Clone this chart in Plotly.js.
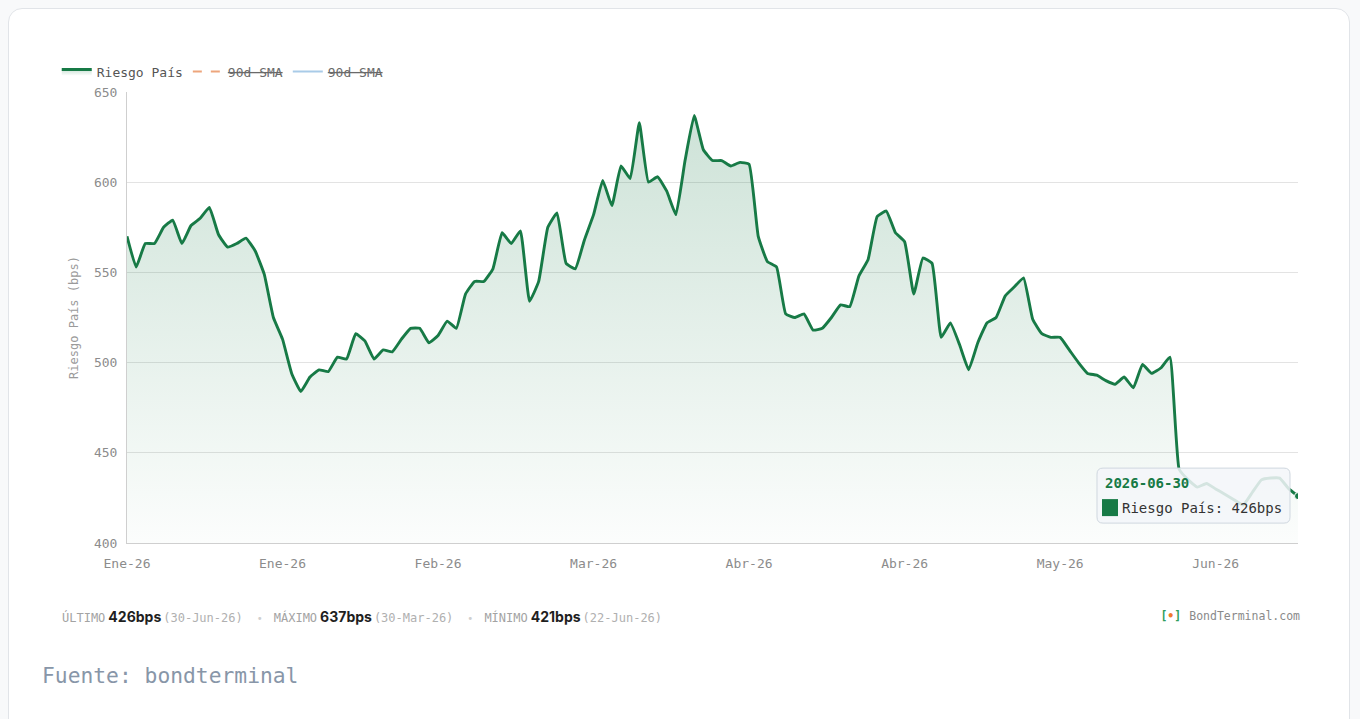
<!DOCTYPE html>
<html>
<head>
<meta charset="utf-8">
<script src="https://cdn.plot.ly/plotly-3.0.1.min.js"></script>
<style>
html,body{margin:0;padding:0;width:1360px;height:719px;overflow:hidden;background:#f8f9fa;}
#card{position:absolute;left:8px;top:8px;width:1342px;height:740px;background:#fff;border:1px solid #e1e4e8;border-radius:14px;box-sizing:border-box;}
#chart{position:absolute;left:0;top:0;width:1360px;height:719px;}
#stats{position:absolute;left:62px;top:607px;font-family:'DejaVu Sans Mono',monospace;font-size:12px;color:#a3a3a3;white-space:nowrap;line-height:20px;}
#stats .v{font-family:Inter,'Noto Sans',sans-serif;font-weight:700;font-size:14px;color:#1f1f1f;margin:0 2px 0 3px;}
#stats .d{color:#b0b0b0;}
#stats .sep{color:#cfcfcf;margin:0 11px 0 14px;font-size:10px;}
#brand{position:absolute;right:60px;top:606px;font-family:'DejaVu Sans Mono',monospace;font-size:11.5px;color:#8a8a8a;white-space:nowrap;line-height:20px;}
#brand .ic{color:#2e9e5b;font-weight:bold;margin-right:8px;}
#brand .ic i{color:#f07a2a;font-style:normal;}
#src{position:absolute;left:42px;top:662px;font-family:'DejaVu Sans Mono',monospace;font-size:21.3px;color:#8896a8;line-height:28px;}
</style>
</head>
<body>
<div id="card"></div>
<div id="chart"></div>
<div id="stats"></div>
<div id="brand"><span class="ic">[<i>•</i>]</span>BondTerminal.com</div>
<div id="src">Fuente: bondterminal</div>
<script>
// ---- data ----
const dates = [
"2026-01-01","2026-01-02","2026-01-05","2026-01-06","2026-01-07","2026-01-08","2026-01-09","2026-01-12","2026-01-13","2026-01-14",
"2026-01-15","2026-01-16","2026-01-19","2026-01-20","2026-01-21","2026-01-22","2026-01-23","2026-01-26","2026-01-27","2026-01-28",
"2026-01-29","2026-01-30","2026-02-02","2026-02-03","2026-02-04","2026-02-05","2026-02-06","2026-02-09","2026-02-10","2026-02-11",
"2026-02-12","2026-02-13","2026-02-16","2026-02-17","2026-02-18","2026-02-19","2026-02-20","2026-02-23","2026-02-24","2026-02-25",
"2026-02-26","2026-02-27","2026-03-02","2026-03-03","2026-03-04","2026-03-05","2026-03-06","2026-03-09","2026-03-10","2026-03-11",
"2026-03-12","2026-03-13","2026-03-16","2026-03-17","2026-03-18","2026-03-19","2026-03-20","2026-03-23","2026-03-24","2026-03-25",
"2026-03-26","2026-03-27","2026-03-30","2026-03-31","2026-04-01","2026-04-02","2026-04-03","2026-04-06","2026-04-07","2026-04-08",
"2026-04-09","2026-04-10","2026-04-13","2026-04-14","2026-04-15","2026-04-16","2026-04-17","2026-04-20","2026-04-21","2026-04-22",
"2026-04-23","2026-04-24","2026-04-27","2026-04-28","2026-04-29","2026-04-30","2026-05-01","2026-05-04","2026-05-05","2026-05-06",
"2026-05-07","2026-05-08","2026-05-11","2026-05-12","2026-05-13","2026-05-14","2026-05-15","2026-05-18","2026-05-19","2026-05-20",
"2026-05-21","2026-05-22","2026-05-25","2026-05-26","2026-05-27","2026-05-28","2026-05-29","2026-06-01","2026-06-02","2026-06-03",
"2026-06-04","2026-06-05","2026-06-08","2026-06-09","2026-06-10","2026-06-11","2026-06-12","2026-06-15","2026-06-16","2026-06-17",
"2026-06-18","2026-06-19","2026-06-22","2026-06-23","2026-06-24","2026-06-25","2026-06-26","2026-06-29","2026-06-30"
];
const riesgoPais = [
570,553,566,566,575,579,566,576,580,586,
571,564,566,569,562,549,525,513,494,484,
492,496,495,503,502,516,512,502,507,506,
513,519,519,511,515,523,519,538,545,545,
552,572,566,573,534,545,575,583,555,552,
568,582,601,587,609,602,633,600,603,595,
582,612,637,618,612,612,609,611,610,570,
556,553,527,525,527,518,519,525,532,531,
548,557,581,584,572,567,538,558,555,514,
522,510,496,511,522,525,537,542,547,524,
516,514,514,507,500,494,493,490,488,492,
486,499,494,497,503,441,435,431,433,430,
427,424,421,428,435,436,436,430,426
];
const tickIndex = [0,17,34,51,68,85,102,119];
const tickLabels = ["Ene-26","Ene-26","Feb-26","Mar-26","Abr-26","Abr-26","May-26","Jun-26"];
const seriesName = "Riesgo País";
const smaNames = ["90d SMA","90d SMA"];
const monthAbbr = ["Jan","Feb","Mar","Apr","May","Jun","Jul","Aug","Sep","Oct","Nov","Dec"];

// ---- styles ----
const GREEN = "#177a46";
const n = riesgoPais.length;
const lastDate = dates[n-1], lastVal = riesgoPais[n-1];
const strike = s => '<span style="text-decoration:line-through;fill:#6a6a6a">' + s + '</span>';

const traces = [
  {
    x: dates, y: riesgoPais, type: "scatter", mode: "lines", name: seriesName,
    line: {color: GREEN, width: 2.9, shape: "spline", smoothing: 0.35},
    fill: "tozeroy",
    fillgradient: {type: "vertical", start: 400, stop: 645,
      colorscale: [[0, "rgba(23,122,70,0.015)"], [1, "rgba(23,122,70,0.22)"]]},
    hoverinfo: "skip"
  },
  {x: [dates[0]], y: [null], type: "scatter", mode: "lines", name: strike(smaNames[0]),
   line: {color: "#eda57c", width: 2, dash: "dash"}},
  {x: [dates[0]], y: [null], type: "scatter", mode: "lines", name: strike(smaNames[1]),
   line: {color: "#a9cbe8", width: 2}},
  {x: [lastDate], y: [lastVal], type: "scatter", mode: "markers", showlegend: false,
   marker: {color: GREEN, size: 7, line: {color: "#ffffff", width: 1}}, hoverinfo: "skip"}
];

const box = "M -195,28 L -14,28 Q -8,28 -8,22 L -8,-21 Q -8,-27 -14,-27 L -195,-27 Q -201,-27 -201,-21 L -201,22 Q -201,28 -195,28 Z";

const layout = {
  width: 1360, height: 719,
  margin: {l: 127, r: 62, t: 92, b: 176, pad: 0},
  paper_bgcolor: "rgba(0,0,0,0)", plot_bgcolor: "rgba(0,0,0,0)",
  font: {family: "DejaVu Sans Mono, monospace", size: 13, color: "#8c8c8c"},
  showlegend: true,
  legend: {orientation: "h", x: -0.06, xanchor: "left", y: 1.012, yanchor: "bottom",
    font: {size: 13, color: "#555"}, itemwidth: 30, bgcolor: "rgba(0,0,0,0)", tracegroupgap: 0,
    itemclick: false, itemdoubleclick: false},
  xaxis: {type: "category", range: [0, n-1], tickmode: "array",
    tickvals: tickIndex.map(i => dates[i]), ticktext: tickLabels,
    showgrid: false, zeroline: false, showline: true, linecolor: "#cfcfcf", linewidth: 1,
    ticks: "", ticklabelstandoff: 8, tickfont: {size: 13, color: "#8c8c8c"}, fixedrange: true},
  yaxis: {range: [400, 650], tick0: 400, dtick: 50, showgrid: true, gridcolor: "#e3e3e3", gridwidth: 1,
    zeroline: false, showline: true, linecolor: "#cfcfcf", linewidth: 1, ticks: "", ticklabelstandoff: 6,
    tickfont: {size: 13, color: "#8c8c8c"},
    title: {text: "Riesgo País (bps)", font: {size: 12, color: "#9a9a9a"}, standoff: 12}, fixedrange: true},
  shapes: [
    {type: "path", xref: "x", yref: "y", xsizemode: "pixel", ysizemode: "pixel",
     xanchor: lastDate, yanchor: lastVal, path: box,
     fillcolor: "rgba(243,246,249,0.86)", line: {color: "#cfd7df", width: 1}, layer: "above"},
    {type: "rect", xref: "x", yref: "y", xsizemode: "pixel", ysizemode: "pixel",
     xanchor: lastDate, yanchor: lastVal, x0: -196, x1: -180, y0: -3, y1: -20,
     fillcolor: GREEN, line: {width: 0}, layer: "above"}
  ],
  annotations: [
    {x: lastDate, y: lastVal, xref: "x", yref: "y", showarrow: false, xanchor: "left", yanchor: "middle",
     xshift: -195, yshift: 13, text: "<b>" + lastDate + "</b>", font: {family: "DejaVu Sans Mono, monospace", size: 14, color: GREEN}},
    {x: lastDate, y: lastVal, xref: "x", yref: "y", showarrow: false, xanchor: "left", yanchor: "middle",
     xshift: -178, yshift: -12, text: seriesName + ": " + lastVal + "bps", font: {family: "DejaVu Sans Mono, monospace", size: 14, color: "#333"}}
  ]
};

Plotly.newPlot("chart", traces, layout, {displayModeBar: false, staticPlot: true});

// ---- stats line ----
function fmt(d){ const p = d.split("-"); return p[2] + "-" + monthAbbr[+p[1]-1] + "-" + p[0].slice(2); }
let iMax = 0, iMin = 0;
riesgoPais.forEach((v,i)=>{ if (v > riesgoPais[iMax]) iMax = i; if (v < riesgoPais[iMin]) iMin = i; });
const parts = [["ÚLTIMO", n-1], ["MÁXIMO", iMax], ["MÍNIMO", iMin]];
document.getElementById("stats").innerHTML = parts.map(([lab, i]) =>
  lab + '<span class="v">' + riesgoPais[i] + 'bps</span><span class="d">(' + fmt(dates[i]) + ')</span>'
).join('<span class="sep">•</span>');
</script>
</body>
</html>
